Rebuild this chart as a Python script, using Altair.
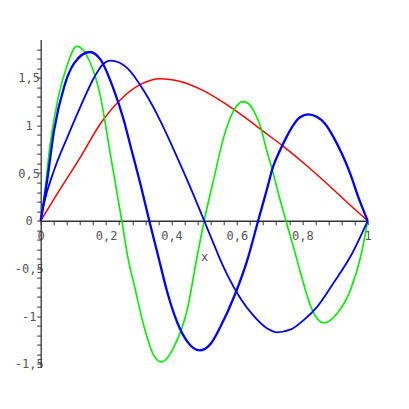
import altair as alt
import pandas as pd

# ---- data ----
red_x = [0, 0.039, 0.122, 0.183, 0.244, 0.305, 0.366, 0.427, 0.488, 0.55, 0.61, 0.676, 0.742, 0.813, 0.885, 0.946, 1.0]
red_y = [0, 0.22, 0.67, 1.02, 1.27, 1.43, 1.49, 1.46, 1.38, 1.26, 1.12, 0.95, 0.78, 0.58, 0.36, 0.165, 0]

green_x = [0, 0.01, 0.028, 0.054, 0.08, 0.11, 0.15, 0.183, 0.212, 0.248, 0.268, 0.285, 0.316, 0.347, 0.369,
           0.408, 0.449, 0.478, 0.5, 0.53, 0.56, 0.591, 0.618, 0.635, 0.655, 0.671, 0.691, 0.711, 0.732, 0.75,
           0.775, 0.795, 0.826, 0.866, 0.907, 0.948, 0.979, 1.0]
green_y = [0, 0.22, 0.78, 1.30, 1.62, 1.83, 1.67, 1.30, 0.72, 0, -0.41, -0.66, -1.11, -1.42, -1.48,
           -1.32, -0.92, -0.38, 0, 0.45, 0.88, 1.16, 1.25, 1.23, 1.13, 1.0, 0.74, 0.50, 0.22, 0,
           -0.30, -0.55, -0.90, -1.07, -0.97, -0.72, -0.37, 0]

blue1_x = [0, 0.02, 0.041, 0.072, 0.102, 0.15, 0.183, 0.224, 0.252, 0.278, 0.306, 0.332, 0.36, 0.388, 0.418,
           0.449, 0.486, 0.52, 0.55, 0.591, 0.632, 0.665, 0.691, 0.711, 0.732, 0.752, 0.772, 0.793, 0.818,
           0.844, 0.869, 0.895, 0.92, 0.946, 0.971, 1.0]
blue1_y = [0, 0.43, 0.95, 1.41, 1.65, 1.77, 1.69, 1.37, 1.08, 0.74, 0.37, 0, -0.38, -0.76, -1.07,
           -1.27, -1.36, -1.29, -1.11, -0.80, -0.41, 0, 0.32, 0.57, 0.74, 0.88, 1.0, 1.085, 1.115,
           1.09, 1.02, 0.88, 0.71, 0.50, 0.25, 0]

blue2_x = [0, 0.01, 0.041, 0.082, 0.122, 0.163, 0.19, 0.213, 0.24, 0.265, 0.316, 0.367, 0.405, 0.459, 0.5,
           0.53, 0.548, 0.571, 0.612, 0.652, 0.693, 0.723, 0.765, 0.805, 0.846, 0.896, 0.948, 1.0]
blue2_y = [0, 0.18, 0.53, 0.88, 1.2, 1.5, 1.64, 1.68, 1.66, 1.60, 1.36, 1.04, 0.76, 0.34, 0,
           -0.25, -0.40, -0.57, -0.82, -1.0, -1.13, -1.17, -1.14, -1.04, -0.90, -0.65, -0.37, 0]

x_ticks = [0, 0.04, 0.08, 0.12, 0.16, 0.2, 0.24, 0.28, 0.32, 0.36, 0.4, 0.44, 0.48, 0.52, 0.56, 0.6,
           0.64, 0.68, 0.72, 0.76, 0.8, 0.84, 0.88, 0.92, 0.96, 1.0]
y_ticks = [-1.5, -1.4, -1.3, -1.2, -1.1, -1.0, -0.9, -0.8, -0.7, -0.6, -0.5, -0.4, -0.3, -0.2, -0.1, 0,
           0.1, 0.2, 0.3, 0.4, 0.5, 0.6, 0.7, 0.8, 0.9, 1.0, 1.1, 1.2, 1.3, 1.4, 1.5, 1.6, 1.7, 1.8]

x_domain = [0, 1]
y_domain = [-1.54, 1.9]

W, H = 327, 328
zero_from_bottom = H * (0 - y_domain[0]) / (y_domain[1] - y_domain[0])

FONT = "DejaVu Sans Mono"
GREY = "#555555"

x_enc = alt.X(
    "x:Q",
    scale=alt.Scale(domain=x_domain, nice=False, zero=False),
    axis=alt.Axis(
        values=x_ticks, grid=False, offset=-zero_from_bottom, title="x",
        labelExpr="abs(datum.value*5 - round(datum.value*5)) < 0.001 ? replace(format(datum.value, '~g'), '.', ',') : ''",
        labelFlush=False, labelOverlap=False, labelFont=FONT, labelFontSize=12, labelColor=GREY,
        labelPadding=6, tickSize=4, tickColor="#333333", domainColor="#333333", domainWidth=1.3,
        titleFont=FONT, titleFontSize=12, titleFontWeight="normal", titleColor=GREY, titlePadding=10,
    ),
)
y_enc = alt.Y(
    "y:Q",
    scale=alt.Scale(domain=y_domain, nice=False, zero=False),
    axis=alt.Axis(
        values=y_ticks, grid=False, title=None,
        labelExpr="abs(datum.value*2 - round(datum.value*2)) < 0.001 ? replace(replace(format(datum.value, '~g'), '.', ','), '\u2212', '-') : ''",
        labelFlush=False, labelOverlap=False, labelFont=FONT, labelFontSize=12, labelColor=GREY,
        labelAlign="center", labelBaseline="middle", labelPadding=8,
        tickSize=4, tickColor="#333333", domainColor="#333333", domainWidth=1.3,
    ),
)

def curve(xs, ys, color, width):
    df = pd.DataFrame({"x": xs, "y": ys})
    return alt.Chart(df).mark_line(color=color, strokeWidth=width, interpolate="monotone").encode(
        x=x_enc, y=y_enc
    )

chart = alt.layer(
    curve(red_x, red_y, "#ff0000", 1.5),
    curve(green_x, green_y, "#00ee00", 1.6),
    curve(blue2_x, blue2_y, "#0000ff", 1.8),
    curve(blue1_x, blue1_y, "#0000ff", 2.3),
).properties(
    width=W, height=H,
    autosize=alt.AutoSizeParams(type="none"),
    padding={"left": 32.7, "top": 31.6, "right": 25, "bottom": 25},
).configure_view(stroke=None)

chart.save("out.html", embed_options={"renderer": "svg", "actions": False})
